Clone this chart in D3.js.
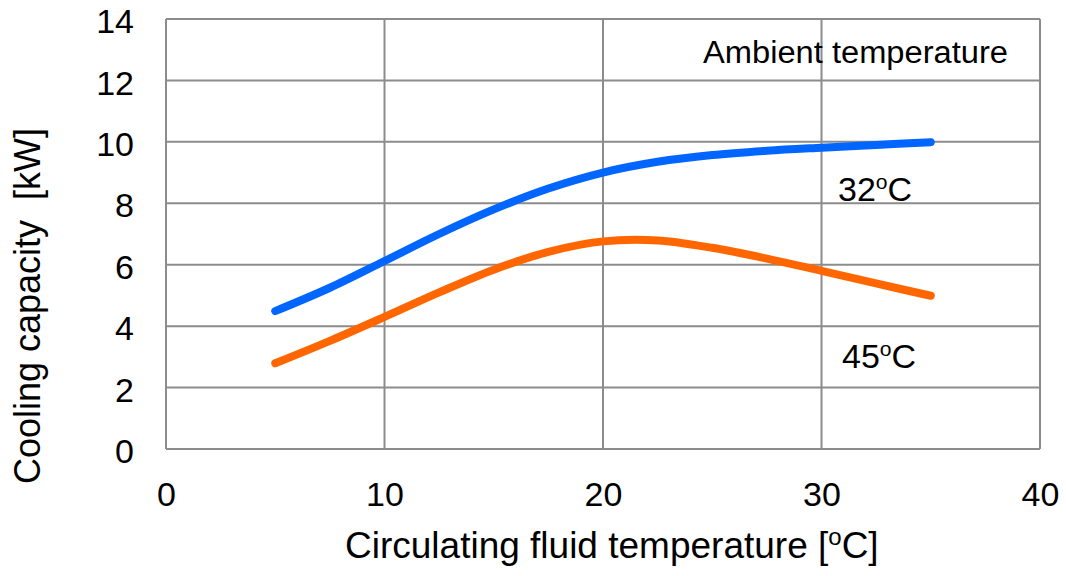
<!DOCTYPE html>
<html>
<head>
<meta charset="utf-8">
<script src="https://cdn.jsdelivr.net/npm/d3@7"></script>
<style>
  body { margin: 0; background: #fff; }
  text { font-family: "Liberation Sans", Arial, sans-serif; fill: #000; }
</style>
</head>
<body>
<div id="chart"></div>
<script>
// Chart data
const fluidTemp = [5, 7.5, 10, 12.5, 15, 17.5, 20, 22.5, 25, 27.5, 30, 32.5, 35];
const capacity32 = [4.49, 5.25, 6.12, 7.00, 7.80, 8.48, 9.00, 9.35, 9.57, 9.71, 9.81, 9.90, 9.99];
const capacity45 = [2.79, 3.52, 4.30, 5.10, 5.84, 6.42, 6.76, 6.79, 6.55, 6.20, 5.80, 5.39, 4.99];
const xTicks = [0, 10, 20, 30, 40];
const yTicks = [0, 2, 4, 6, 8, 10, 12, 14];

const margin = {top: 19, right: 26, bottom: 127, left: 166};
const width = 1066 - margin.left - margin.right;
const height = 576 - margin.top - margin.bottom;

const svg = d3.select("#chart")
    .append("svg")
    .attr("width", 1066)
    .attr("height", 576);

const g = svg.append("g")
    .attr("transform", `translate(${margin.left},${margin.top})`);

const x = d3.scaleLinear().domain([0, 40]).range([0, width]);
const y = d3.scaleLinear().domain([0, 14]).range([height, 0]);

const gridColor = "#8c8c8c";

// Grid lines
g.append("g")
    .selectAll("line")
    .data(yTicks)
    .join("line")
    .attr("x1", 0).attr("x2", width)
    .attr("y1", d => y(d)).attr("y2", d => y(d))
    .attr("stroke", gridColor)
    .attr("stroke-width", 2);

g.append("g")
    .selectAll("line")
    .data(xTicks)
    .join("line")
    .attr("x1", d => x(d)).attr("x2", d => x(d))
    .attr("y1", 0).attr("y2", height)
    .attr("stroke", gridColor)
    .attr("stroke-width", 2);

// Axes (labels only)
const xAxis = g.append("g")
    .attr("transform", `translate(0,${height})`)
    .call(d3.axisBottom(x).tickValues(xTicks).tickSize(0).tickPadding(33));
xAxis.select(".domain").remove();
xAxis.selectAll("text")
    .style("font-size", "34px")
    .style("font-family", "Liberation Sans, Arial, sans-serif");

const yAxis = g.append("g")
    .call(d3.axisLeft(y).tickValues(yTicks).tickSize(0).tickPadding(32));
yAxis.select(".domain").remove();
yAxis.selectAll("text")
    .style("font-size", "34px")
    .style("font-family", "Liberation Sans, Arial, sans-serif")
    .attr("dy", "0.4em");

// Curves
const line = d3.line()
    .x(d => x(d[0]))
    .y(d => y(d[1]))
    .curve(d3.curveCatmullRom.alpha(0.5));

const series = [
    {values: capacity32, color: "#0066ff"},
    {values: capacity45, color: "#ff6600"}
];

g.selectAll(".curve")
    .data(series)
    .join("path")
    .attr("class", "curve")
    .attr("fill", "none")
    .attr("stroke", d => d.color)
    .attr("stroke-width", 8)
    .attr("stroke-linecap", "round")
    .attr("d", d => line(fluidTemp.map((t, i) => [t, d.values[i]])));

// Annotations
g.append("text")
    .attr("x", 537)
    .attr("y", 44)
    .style("font-size", "31px")
    .attr("textLength", 305)
    .attr("lengthAdjust", "spacingAndGlyphs")
    .text("Ambient temperature");

function degreeLabel(parent, xPos, yPos, num, size) {
    const t = parent.append("text")
        .attr("x", xPos)
        .attr("y", yPos)
        .style("font-size", size + "px");
    t.append("tspan").text(num);
    t.append("tspan").attr("dy", -size * 0.36).style("font-size", (size * 0.62) + "px").text("o");
    t.append("tspan").attr("dy", size * 0.36).text("C");
    return t;
}

degreeLabel(g, 672, 182, "32", 34);
degreeLabel(g, 676, 349, "45", 34);

// Axis titles
const xt = svg.append("text")
    .attr("x", 345)
    .attr("y", 558)
    .style("font-size", "37px");
xt.append("tspan").text("Circulating fluid temperature [");
xt.append("tspan").attr("dy", -13).style("font-size", "24px").text("o");
xt.append("tspan").attr("dy", 13).text("C]");

svg.append("text")
    .attr("transform", "translate(40,306) rotate(-90)")
    .attr("text-anchor", "middle")
    .style("font-size", "36px")
    .style("white-space", "pre")
    .text("Cooling capacity  [kW]");
</script>
</body>
</html>
